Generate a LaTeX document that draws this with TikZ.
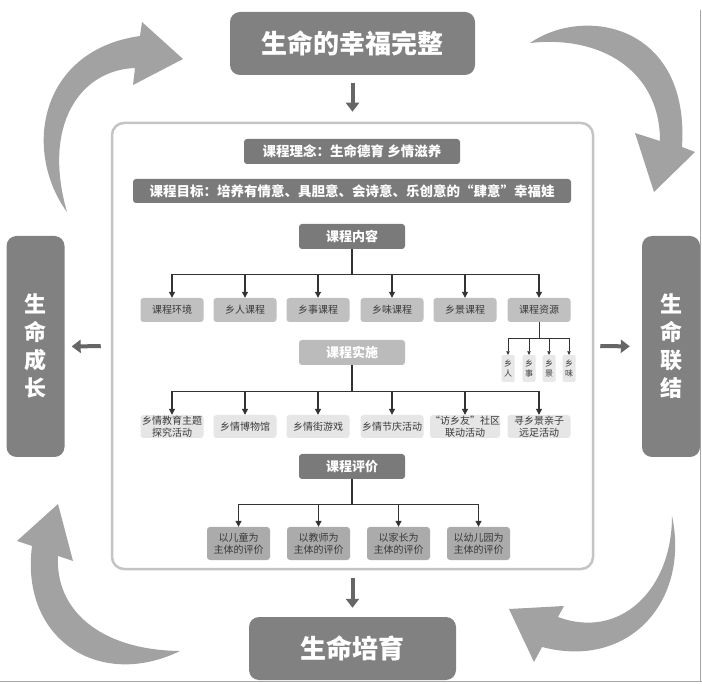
\documentclass[tikz,border=0pt]{standalone}
\usepackage{fontspec}
\usepackage{tikz}
\usetikzlibrary{arrows.meta}
\newfontfamily\cjk{Noto Sans CJK SC}

\definecolor{maingray}{HTML}{818181}
\definecolor{swirlgray}{HTML}{A2A2A2}
\definecolor{arrowgray}{HTML}{666666}
\definecolor{framegray}{HTML}{C4C4C4}
\definecolor{bargray}{HTML}{7A7A7A}
\definecolor{implgray}{HTML}{BBBBBB}
\definecolor{contentgray}{HTML}{C0C0C0}
\definecolor{implitemgray}{HTML}{E6E6E6}
\definecolor{evalgray}{HTML}{ABABAB}
\definecolor{subgray}{HTML}{E8E8E8}
\definecolor{itemtext}{HTML}{3A3A3A}
\definecolor{linegray}{HTML}{333333}

\begin{document}
\begin{tikzpicture}[x=1pt, y=-1pt,
    mainbox/.style={fill=maingray, rounded corners=10pt, text=white, inner sep=0pt,
        font=\cjk\bfseries\fontsize{26}{28}\selectfont},
    sidebox/.style={mainbox, minimum width=58pt, minimum height=221pt, align=center,
        font=\cjk\bfseries\fontsize{22}{28}\selectfont},
    barbox/.style={fill=bargray, rounded corners=3pt, text=white, inner sep=0pt,
        minimum height=25pt, font=\cjk\bfseries\fontsize{13.5}{15}\selectfont},
    headbox/.style={barbox, minimum width=106pt, font=\cjk\bfseries\fontsize{13}{15}\selectfont},
    itembox/.style={rounded corners=3pt, inner sep=0pt, minimum width=63pt, minimum height=24pt,
        align=center, text=itemtext, font=\cjk\fontsize{10}{12}\selectfont},
    subbox/.style={fill=subgray, rounded corners=1.5pt, inner sep=0pt, minimum width=13pt,
        minimum height=27pt, align=center, text=itemtext, font=\cjk\fontsize{8}{10}\selectfont},
    bigarrow/.style={draw=arrowgray, line width=4pt, -{Triangle[width=13pt,length=9pt]}},
    treelink/.style={draw=linegray, line width=1.1pt, -{Triangle[width=6pt,length=6pt]}},
    sublink/.style={draw=linegray, line width=0.6pt, -{Triangle[width=3.5pt,length=3.5pt]}},
    swirl/.style={fill=swirlgray, draw=none}]

    \useasboundingbox (0,0) rectangle (702,684);

    % Page edge
    \draw[gray!70, line width=0.8pt] (0,681) -- (702,681);
    \draw[gray!70, line width=0.8pt] (700,10) -- (700,681);

    % Round arrows
    \fill[swirl] (67,212) .. controls (22,150) and (40,50) .. (140,36) -- (142,22) -- (183,59)
        -- (133,85) -- (135,68) .. controls (80,70) and (42,125) .. (67,212) -- cycle;
    \fill[swirl] (530,43) .. controls (585,5) and (690,25) .. (682,147) -- (695,152) -- (654,192)
        -- (635,133) -- (660,141) .. controls (660,70) and (600,35) .. (530,43) -- cycle;
    \fill[swirl] (672,516) .. controls (690,600) and (630,670) .. (542,647) -- (534,662) -- (509,609)
        -- (564,606) -- (558,617) .. controls (620,640) and (672,590) .. (672,516) -- cycle;
    \fill[swirl] (180,651) .. controls (100,690) and (20,640) .. (32,546) -- (17,541) -- (58,504)
        -- (73,561) -- (58,556) .. controls (55,610) and (100,650) .. (180,651) -- cycle;

    % Outer boxes
    \node[mainbox, minimum width=245pt, minimum height=63pt] (whole) at (352.5,43.5) {生命的幸福完整};
    \node[mainbox, minimum width=207pt, minimum height=63pt] (nurture) at (352.5,648.5) {生命培育};
    \node[sidebox] (growth) at (35.5,346.5) {生\\命\\成\\长};
    \node[sidebox] (link) at (671,346.5) {生\\命\\联\\结};

    % Curriculum frame
    \node[draw=framegray, line width=2.5pt, fill=white, rounded corners=12pt,
        minimum width=481pt, minimum height=446pt] (frame) at (352.5,346) {};

    \draw[bigarrow, shorten <=8pt, shorten >=10pt] (whole.south) -- (frame.north);
    \draw[bigarrow, shorten <=8pt, shorten >=9pt] (frame.south) -- (nurture.north);
    \draw[bigarrow, shorten <=10pt, shorten >=7pt] (frame.west) -- (growth.east);
    \draw[bigarrow, shorten <=6pt, shorten >=12pt] (frame.east) -- (link.west);

    % Idea and goal
    \node[barbox, minimum width=216pt] (idea) at (352,151.5) {课程理念：生命德育 乡情滋养};
    \node[barbox, minimum width=438pt, minimum height=24pt] (goal) at (352,191)
        {课程目标：培养有情意、具胆意、会诗意、乐创意的“肆意”幸福娃};

    % Course content
    \node[headbox] (content) at (352,236.5) {课程内容};
    \node[itembox, fill=contentgray] (c1) at (172,310) {课程环境};
    \node[itembox, fill=contentgray] (c2) at (245,310) {乡人课程};
    \node[itembox, fill=contentgray] (c3) at (318,310) {乡事课程};
    \node[itembox, fill=contentgray] (c4) at (392,310) {乡味课程};
    \node[itembox, fill=contentgray] (c5) at (465,310) {乡景课程};
    \node[itembox, fill=contentgray] (c6) at (539,310) {课程资源};
    \foreach \n in {c1,c2,c3,c4,c5,c6}
        \draw[treelink] (content.south) -- ++(0,25) -| (\n.north);

    % Resources
    \node[subbox] (r1) at (508,368.5) {乡\\人};
    \node[subbox] (r2) at (529,368.5) {乡\\事};
    \node[subbox] (r3) at (549,368.5) {乡\\景};
    \node[subbox] (r4) at (569,368.5) {乡\\味};
    \foreach \n in {r1,r2,r3,r4}
        \draw[sublink] (c6.south) -- ++(0,16) -| (\n.north);

    % Course practice
    \node[headbox, fill=implgray] (practice) at (352,352.5) {课程实施};
    \node[itembox, fill=implitemgray, minimum height=23pt] (p1) at (172,426.5) {乡情教育主题\\探究活动};
    \node[itembox, fill=implitemgray, minimum height=23pt] (p2) at (245,426.5) {乡情博物馆};
    \node[itembox, fill=implitemgray, minimum height=23pt] (p3) at (318,426.5) {乡情街游戏};
    \node[itembox, fill=implitemgray, minimum height=23pt] (p4) at (392,426.5) {乡情节庆活动};
    \node[itembox, fill=implitemgray, minimum height=23pt] (p5) at (465,426.5) {“访乡友”社区\\联动活动};
    \node[itembox, fill=implitemgray, minimum height=23pt] (p6) at (539,426.5) {寻乡景亲子\\远足活动};
    \foreach \n in {p1,p2,p3,p4,p5,p6}
        \draw[treelink] (practice.south) -- ++(0,26) -| (\n.north);

    % Course evaluation
    \node[headbox] (review) at (352,466.5) {课程评价};
    \node[itembox, fill=evalgray, minimum height=33pt] (e1) at (238.5,543.5) {以儿童为\\主体的评价};
    \node[itembox, fill=evalgray, minimum height=33pt] (e2) at (318.5,543.5) {以教师为\\主体的评价};
    \node[itembox, fill=evalgray, minimum height=33pt] (e3) at (398.5,543.5) {以家长为\\主体的评价};
    \node[itembox, fill=evalgray, minimum height=33pt] (e4) at (478.5,543.5) {以幼儿园为\\主体的评价};
    \foreach \n in {e1,e2,e3,e4}
        \draw[treelink] (review.south) -- ++(0,25) -| (\n.north);

\end{tikzpicture}
\end{document}
